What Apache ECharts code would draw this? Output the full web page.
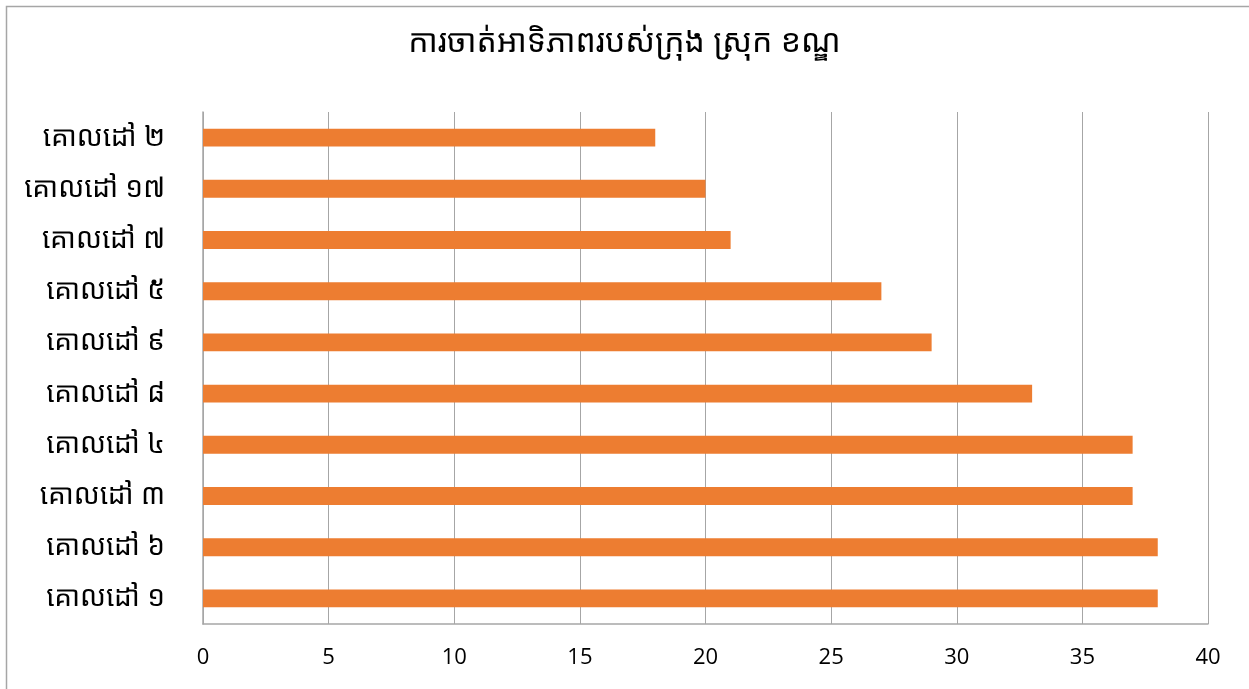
<!DOCTYPE html>
<html>
<head>
<meta charset="utf-8">
<script src="https://cdn.jsdelivr.net/npm/echarts@6/dist/echarts.min.js"></script>
<style>
html,body{margin:0;padding:0;background:#fff;}
#chart{width:1249px;height:689px;}
</style>
</head>
<body>
<div id="chart"></div>
<script>
const titleText = 'ការចាត់អាទិភាពរបស់ក្រុង ស្រុក ខណ្ឌ';
const categories = ['គោលដៅ ២','គោលដៅ ១៧','គោលដៅ ៧','គោលដៅ ៥','គោលដៅ ៩','គោលដៅ ៨','គោលដៅ ៤','គោលដៅ ៣','គោលដៅ ៦','គោលដៅ ១'];
const values = [18, 20, 21, 27, 29, 33, 37, 37, 38, 38];
const xMin = 0, xMax = 40, xStep = 5;

const FONT = '"Noto Sans Khmer","Khmer OS","Khmer OS System","Noto Sans","DejaVu Sans",sans-serif';
const chart = echarts.init(document.getElementById('chart'), null, {renderer: 'canvas'});
chart.setOption({
  animation: false,
  backgroundColor: '#ffffff',
  graphic: [{
    type: 'rect', left: 4, top: 4,
    shape: {width: 1300, height: 800},
    style: {fill: 'none', stroke: '#a6a6a6', lineWidth: 1.5},
    silent: true, z: -1
  }],
  title: {
    text: titleText, left: 'center', top: 22,
    textStyle: {fontFamily: FONT, fontSize: 32, fontWeight: 'normal', color: '#000'}
  },
  grid: {left: 203, right: 41, top: 112, bottom: 65, containLabel: false},
  xAxis: {
    type: 'value', min: xMin, max: xMax, interval: xStep,
    axisLine: {show: true, lineStyle: {color: '#a6a6a6', width: 1.5}},
    axisTick: {show: false},
    splitLine: {show: true, lineStyle: {color: '#a6a6a6', width: 1}},
    axisLabel: {fontFamily: '"Open Sans","Liberation Sans",sans-serif', fontSize: 22, color: '#000', margin: 23}
  },
  yAxis: {
    type: 'category', data: categories, inverse: true,
    axisLine: {show: true, lineStyle: {color: '#a6a6a6', width: 1.5}},
    axisTick: {show: false},
    axisLabel: {fontFamily: FONT, fontSize: 28, color: '#000', margin: 38}
  },
  series: [{
    type: 'bar', data: values, barWidth: '35%',
    itemStyle: {color: '#ED7D31'}
  }]
});
</script>
</body>
</html>
